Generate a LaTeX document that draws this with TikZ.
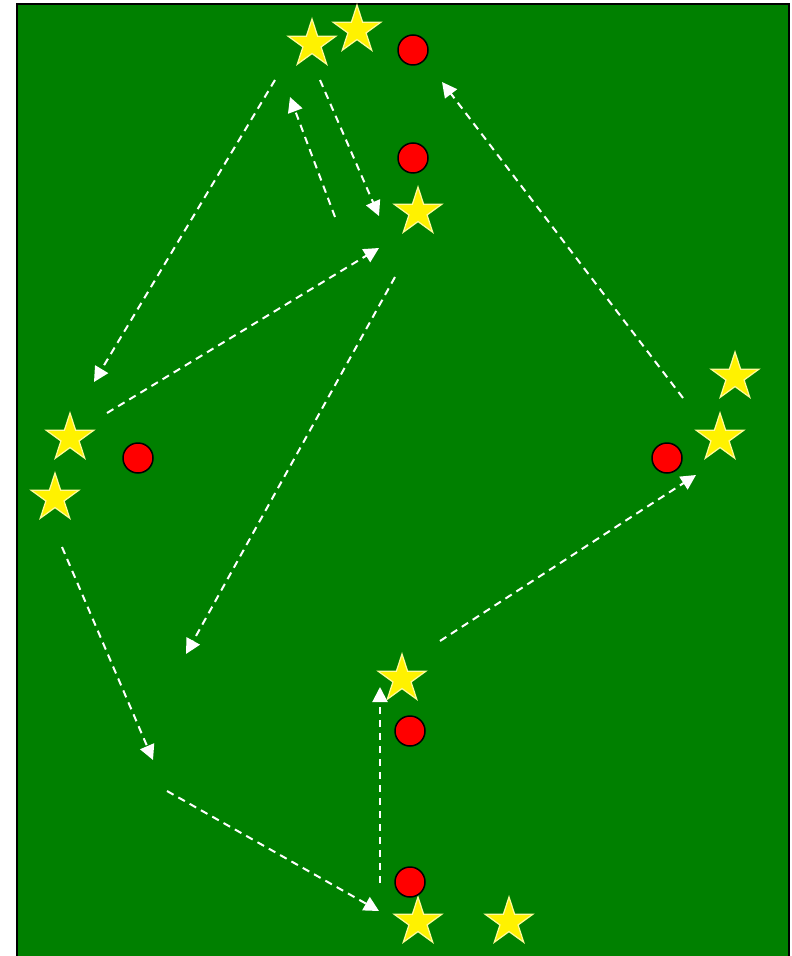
\documentclass[tikz,border=0pt]{standalone}
\usetikzlibrary{shapes.geometric,arrows.meta}
\definecolor{pitch}{HTML}{008000}

\begin{document}
\begin{tikzpicture}[x=0.02cm,y=-0.02cm]

\tikzstyle{STAR} = [star, star points=5, star point ratio=2.618, minimum size=1cm, inner sep=0pt, draw=yellow!40!white, fill=yellow, line width=0.25mm]
\tikzstyle{DOT} = [circle, minimum size=0.6cm, inner sep=0pt, draw=black, fill=red, line width=0.3mm]
\tikzstyle{run} = [white, line width=0.4mm, dash pattern=on 1.5mm off 1.1mm, -{Triangle[length=3mm,width=3mm]}]

\useasboundingbox (0,0) rectangle (791,956);
\clip (0,0) rectangle (791,956);
\draw[fill=pitch, line width=0.4mm] (17,4) rectangle (789,990);

% players
\node (P1) [STAR] at (312,44) {};
\node (P2) [STAR] at (357,30) {};
\node (P3) [STAR] at (418,212) {};
\node (P4) [STAR] at (735,377) {};
\node (P5) [STAR] at (720,438) {};
\node (P6) [STAR] at (70,438) {};
\node (P7) [STAR] at (55,498) {};
\node (P8) [STAR] at (402,679) {};
\node (P9) [STAR] at (418,922) {};
\node (P10) [STAR] at (509,922) {};

% cones
\node (C1) [DOT] at (413,50) {};
\node (C2) [DOT] at (413,158) {};
\node (C3) [DOT] at (138,458) {};
\node (C4) [DOT] at (667,458) {};
\node (C5) [DOT] at (410,731) {};
\node (C6) [DOT] at (410,882) {};

% runs
\coordinate (R1a) at (275,80);  \coordinate (R1b) at (94,382);
\coordinate (R2a) at (335,217); \coordinate (R2b) at (290,97);
\coordinate (R3a) at (320,80);  \coordinate (R3b) at (379,216);
\coordinate (R4a) at (107,413); \coordinate (R4b) at (379,248);
\coordinate (R5a) at (395,277); \coordinate (R5b) at (186,654);
\coordinate (R6a) at (683,398); \coordinate (R6b) at (442,82);
\coordinate (R7a) at (62,547);  \coordinate (R7b) at (153,760);
\coordinate (R8a) at (440,641); \coordinate (R8b) at (696,475);
\coordinate (R9a) at (167,791); \coordinate (R9b) at (379,911);
\coordinate (R10a) at (380,883); \coordinate (R10b) at (380,687);

\draw[run] (R1a) -- (R1b);
\draw[run] (R2a) -- (R2b);
\draw[run] (R3a) -- (R3b);
\draw[run] (R4a) -- (R4b);
\draw[run] (R5a) -- (R5b);
\draw[run] (R6a) -- (R6b);
\draw[run] (R7a) -- (R7b);
\draw[run] (R8a) -- (R8b);
\draw[run] (R9a) -- (R9b);
\draw[run] (R10a) -- (R10b);

\end{tikzpicture}
\end{document}
